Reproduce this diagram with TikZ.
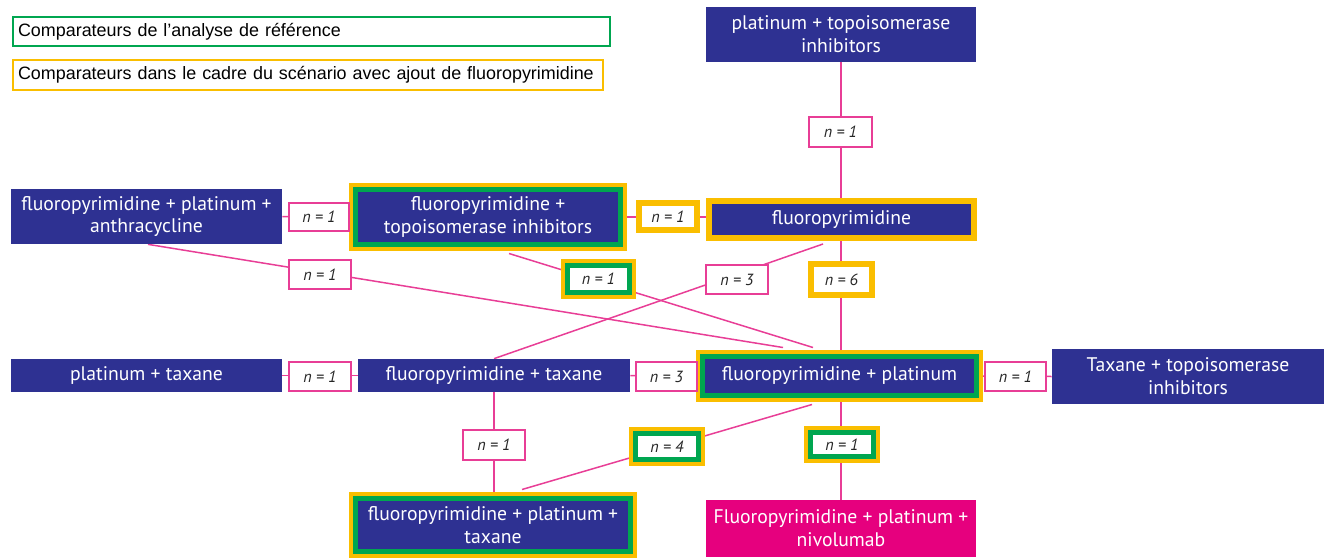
\documentclass[tikz,border=0pt]{standalone}
\usepackage{fontspec}
\setmainfont{PT Sans}
\newfontfamily\legendfont{Liberation Sans}
\usetikzlibrary{calc,backgrounds}
\definecolor{navy}{RGB}{46,49,146}
\definecolor{nivomagenta}{RGB}{230,0,126}
\definecolor{linkpink}{RGB}{232,62,150}
\definecolor{scengold}{RGB}{250,190,0}
\definecolor{refgreen}{RGB}{0,166,80}
\begin{document}
\begin{tikzpicture}[x=0.02cm,y=-0.02cm,
		box/.style={fill=navy, text=white, inner sep=0pt, align=center, font=\fontsize{11.2}{13}\selectfont},
		boxref/.style={box, draw=refgreen, line width=0.1cm, preaction={draw=scengold, line width=0.26cm}},
		boxscen/.style={box, draw=scengold, line width=0.12cm},
		lbl/.style={fill=white, draw=linkpink, line width=0.04cm, inner sep=0pt, text=black!85, font=\fontsize{9.2}{10}\selectfont\itshape},
		lblref/.style={lbl, draw=refgreen, line width=0.1cm, preaction={draw=scengold, line width=0.26cm}},
		lblscen/.style={lbl, draw=scengold, line width=0.12cm},
		legend/.style={fill=white, line width=0.05cm, inner xsep=0.1cm, inner ysep=0pt, align=left, font=\legendfont\fontsize{10.2}{12}\selectfont},
		link/.style={draw=linkpink, line width=0.03cm}]
		\useasboundingbox (0,0) rectangle (1326,558);
		
		\node[legend, draw=refgreen, text width=11.74cm, minimum height=0.58cm] (legref) at (311.5,31.5) {Comparateurs de l’analyse de référence};
		\node[legend, draw=scengold, text width=11.6cm, minimum height=0.6cm] (legscen) at (308,75) {\mbox{Comparateurs dans le cadre du scénario avec ajout de fluoropyrimidine}};
		
		\node[box, minimum width=5.4cm, minimum height=1.1cm] (pti) at (841,34.5) {platinum + topoisomerase\\inhibitors};
		\node[box, minimum width=5.42cm, minimum height=1.1cm] (fpa) at (146.5,216.5) {fluoropyrimidine + platinum +\\anthracycline};
		\node[boxref, minimum width=5.3cm, minimum height=1.1cm] (ft) at (488,217) {fluoropyrimidine +\\topoisomerase inhibitors};
		\node[boxscen, minimum width=5.32cm, minimum height=0.74cm] (f) at (841.5,219.5) {fluoropyrimidine};
		\node[box, minimum width=5.42cm, minimum height=0.66cm] (pt) at (146.5,375.5) {platinum + taxane};
		\node[box, minimum width=5.44cm, minimum height=0.66cm] (ftx) at (494,375.5) {fluoropyrimidine + taxane};
		\node[boxref, minimum width=5.48cm, minimum height=0.78cm] (fp) at (839.5,376) {fluoropyrimidine + platinum};
		\node[box, minimum width=5.44cm, minimum height=1.1cm] (tt) at (1188,376.5) {Taxane + topoisomerase\\inhibitors};
		\node[boxref, minimum width=5.5cm, minimum height=1.06cm] (fpt) at (493,525) {fluoropyrimidine + platinum +\\taxane};
		\node[box, fill=nivomagenta, minimum width=5.4cm, minimum height=1.14cm] (fpn) at (841,528.5) {Fluoropyrimidine + platinum +\\nivolumab};
		
		\node[lbl, minimum width=1.26cm, minimum height=0.6cm] (n1a) at (840.5,132) {n = 1};
		\node[lbl, minimum width=1.2cm, minimum height=0.56cm] (n1b) at (319,217) {n = 1};
		\node[lblscen, minimum width=1.16cm, minimum height=0.54cm] (n1c) at (668,216.5) {n = 1};
		\node[lbl, minimum width=1.24cm, minimum height=0.58cm] (n1d) at (320,274.5) {n = 1};
		\node[lblref, minimum width=1.24cm, minimum height=0.54cm] (n1e) at (598.5,279) {n = 1};
		\node[lbl, minimum width=1.24cm, minimum height=0.58cm] (n3a) at (737,279.5) {n = 3};
		\node[lblscen, minimum width=1.22cm, minimum height=0.62cm] (n6) at (841.5,279.5) {n = 6};
		\node[lbl, minimum width=1.24cm, minimum height=0.58cm] (n1f) at (320,376.5) {n = 1};
		\node[lbl, minimum width=1.22cm, minimum height=0.58cm] (n3b) at (666.5,376.5) {n = 3};
		\node[lbl, minimum width=1.22cm, minimum height=0.58cm] (n1g) at (1015.5,376.5) {n = 1};
		\node[lbl, minimum width=1.24cm, minimum height=0.6cm] (n1h) at (494,445) {n = 1};
		\node[lblref, minimum width=1.26cm, minimum height=0.52cm] (n4) at (667,446.5) {n = 4};
		\node[lblref, minimum width=1.26cm, minimum height=0.48cm] (n1i) at (842,444.5) {n = 1};
		
		\begin{scope}[on background layer]
			\draw[link] (pti.south) -- (pti.south |- f.north);
			\draw[link] (fpa.east) -- (ft.west);
			\draw[link] (ft.east) -- (ft.east -| f.west);
			\draw[link] ($(fpa.south)+(1.5,0)$) -- ($(fp.north)+(-56.5,-6.5)$);
			\draw[link] ($(ft.south)+(21,6.5)$) -- ($(fp.north)+(-26.5,-6.5)$);
			\draw[link] ($(f.south)+(-18.5,3)$) -- (ftx.north);
			\draw[link] (f.south -| pti.south) -- (fp.north -| pti.south);
			\draw[link] (pt.east) -- (ftx.west);
			\draw[link] (ftx.east) -- (fp.west);
			\draw[link] (fp.east) -- (tt.west);
			\draw[link] (ftx.south) -- (ftx.south |- fpt.north);
			\draw[link] ($(fp.south)+(-27.5,6.5)$) -- ($(fpt.north)+(29,-6.5)$);
			\draw[link] (fp.south -| pti.south) -- (fpn.north -| pti.south);
		\end{scope}
	\end{tikzpicture}
\end{document}
